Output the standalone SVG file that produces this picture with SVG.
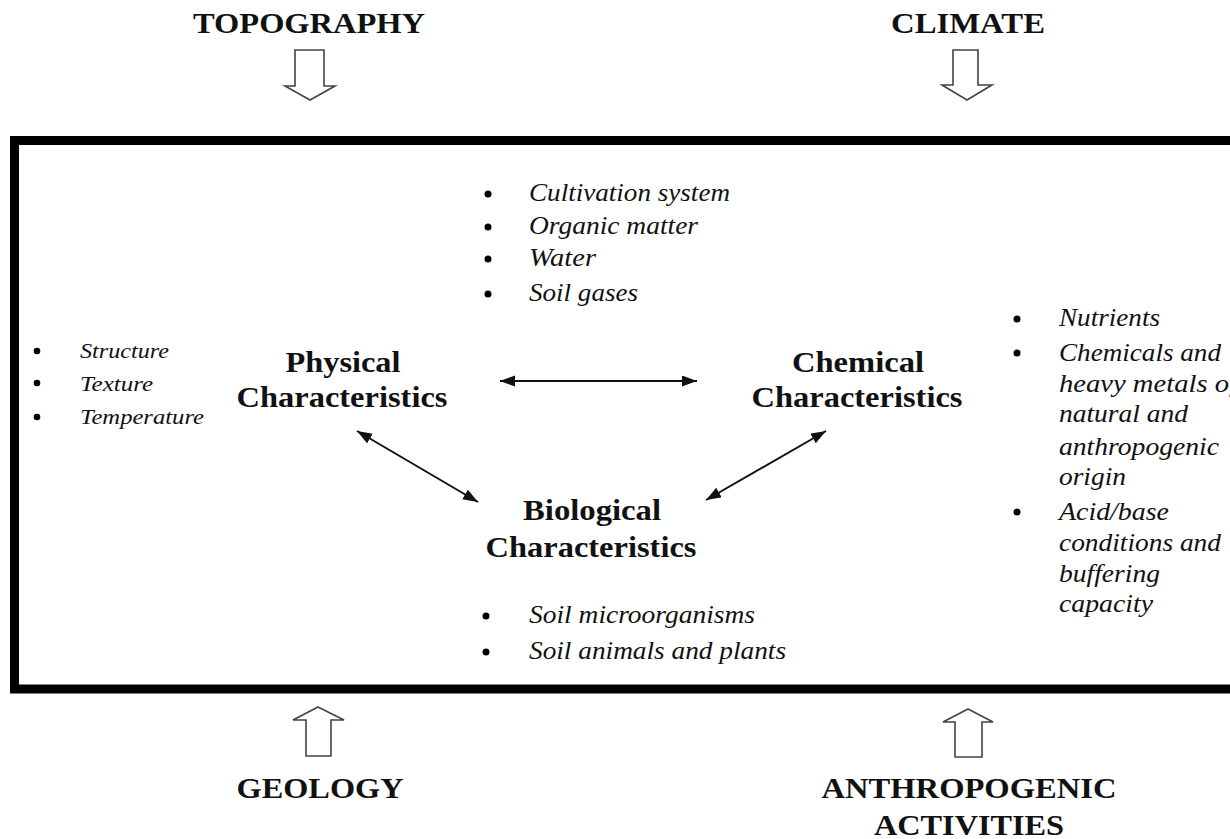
<svg xmlns="http://www.w3.org/2000/svg" width="1230" height="839" viewBox="0 0 1230 839">
<style>
.h{font-family:"Liberation Serif","Times New Roman",serif;font-weight:bold;font-size:30px;fill:#111;text-anchor:middle}
.it{font-family:"Liberation Serif","Times New Roman",serif;font-style:italic;font-size:25px;fill:#111}
.its{font-family:"Liberation Serif","Times New Roman",serif;font-style:italic;font-size:22px;fill:#111}
.hol{fill:#fff;stroke:#444;stroke-width:1.6;stroke-linejoin:miter}
.con{fill:none;stroke:#111;stroke-width:2}
.dot{fill:#000}
</style>
<defs>
<marker id="ah" markerUnits="userSpaceOnUse" markerWidth="16" markerHeight="12" refX="15" refY="5.5" orient="auto-start-reverse">
<path d="M0,0 L15,5.5 L0,11 z" fill="#111"/>
</marker>
</defs>
<rect x="0" y="0" width="1230" height="839" fill="#fff"/>

<g id="boundary">
<rect x="14.5" y="140.5" width="1240" height="548.5" fill="none" stroke="#000" stroke-width="9"/>
</g>

<g id="topography">
<text class="h" x="309" y="33" textLength="232" lengthAdjust="spacingAndGlyphs">TOPOGRAPHY</text>
<polygon class="hol" points="295,50 324,50 324,86 335,86 310,100 285,86 295,86"/>
</g>
<g id="climate">
<text class="h" x="968" y="33" textLength="154" lengthAdjust="spacingAndGlyphs">CLIMATE</text>
<polygon class="hol" points="953,50 978,50 978,85 992,85 967,100 942,85 953,85"/>
</g>
<g id="geology">
<polygon class="hol" points="318,707 344,720 331,720 331,756 306,756 306,720 293,720"/>
<text class="h" x="320" y="798" textLength="167" lengthAdjust="spacingAndGlyphs">GEOLOGY</text>
</g>
<g id="anthropogenic">
<polygon class="hol" points="968,709 993,722 982,722 982,757 955,757 955,722 943,722"/>
<text class="h" x="969" y="798" textLength="295" lengthAdjust="spacingAndGlyphs">ANTHROPOGENIC</text>
<text class="h" x="969" y="835" textLength="190" lengthAdjust="spacingAndGlyphs">ACTIVITIES</text>
</g>

<g id="physical">
<text class="h" x="343" y="372" textLength="115" lengthAdjust="spacingAndGlyphs">Physical</text>
<text class="h" x="342" y="407" textLength="211" lengthAdjust="spacingAndGlyphs">Characteristics</text>
</g>
<g id="chemical">
<text class="h" x="858" y="372" textLength="132" lengthAdjust="spacingAndGlyphs">Chemical</text>
<text class="h" x="857" y="407" textLength="211" lengthAdjust="spacingAndGlyphs">Characteristics</text>
</g>
<g id="biological">
<text class="h" x="592" y="520" textLength="138" lengthAdjust="spacingAndGlyphs">Biological</text>
<text class="h" x="591" y="557" textLength="211" lengthAdjust="spacingAndGlyphs">Characteristics</text>
</g>

<g id="physical-list">
<circle class="dot" cx="37" cy="351" r="3.3"/>
<circle class="dot" cx="37" cy="383" r="3.3"/>
<circle class="dot" cx="37" cy="417" r="3.3"/>
<text class="its" x="80" y="358" textLength="89" lengthAdjust="spacingAndGlyphs">Structure</text>
<text class="its" x="80" y="391" textLength="73" lengthAdjust="spacingAndGlyphs">Texture</text>
<text class="its" x="80" y="424" textLength="124" lengthAdjust="spacingAndGlyphs">Temperature</text>
</g>

<g id="top-list">
<circle class="dot" cx="488" cy="194" r="3.5"/>
<circle class="dot" cx="488" cy="227" r="3.5"/>
<circle class="dot" cx="488" cy="259" r="3.5"/>
<circle class="dot" cx="488" cy="294" r="3.5"/>
<text class="it" x="529" y="201" textLength="201" lengthAdjust="spacingAndGlyphs">Cultivation system</text>
<text class="it" x="529" y="234" textLength="169" lengthAdjust="spacingAndGlyphs">Organic matter</text>
<text class="it" x="529" y="266" textLength="67" lengthAdjust="spacingAndGlyphs">Water</text>
<text class="it" x="529" y="301" textLength="109" lengthAdjust="spacingAndGlyphs">Soil gases</text>
</g>

<g id="chemical-list">
<circle class="dot" cx="1017" cy="319" r="3.5"/>
<circle class="dot" cx="1017" cy="353" r="3.5"/>
<circle class="dot" cx="1017" cy="512" r="3.5"/>
<text class="it" x="1059" y="326" textLength="101" lengthAdjust="spacingAndGlyphs">Nutrients</text>
<text class="it" x="1059" y="361" textLength="162" lengthAdjust="spacingAndGlyphs">Chemicals and</text>
<text class="it" x="1059" y="392" textLength="178" lengthAdjust="spacingAndGlyphs">heavy metals of</text>
<text class="it" x="1059" y="422" textLength="129" lengthAdjust="spacingAndGlyphs">natural and</text>
<text class="it" x="1059" y="455" textLength="160" lengthAdjust="spacingAndGlyphs">anthropogenic</text>
<text class="it" x="1059" y="485" textLength="67" lengthAdjust="spacingAndGlyphs">origin</text>
<text class="it" x="1059" y="520" textLength="110" lengthAdjust="spacingAndGlyphs">Acid/base</text>
<text class="it" x="1059" y="551" textLength="162" lengthAdjust="spacingAndGlyphs">conditions and</text>
<text class="it" x="1059" y="582" textLength="101" lengthAdjust="spacingAndGlyphs">buffering</text>
<text class="it" x="1059" y="612" textLength="94" lengthAdjust="spacingAndGlyphs">capacity</text>
</g>

<g id="biological-list">
<circle class="dot" cx="486" cy="616" r="3.5"/>
<circle class="dot" cx="486" cy="652" r="3.5"/>
<text class="it" x="529" y="623" textLength="226" lengthAdjust="spacingAndGlyphs">Soil microorganisms</text>
<text class="it" x="529" y="659" textLength="257" lengthAdjust="spacingAndGlyphs">Soil animals and plants</text>
</g>

<g id="connectors">
<path class="con" d="M500,381 L697,381" marker-start="url(#ah)" marker-end="url(#ah)"/>
<path class="con" d="M357,431 L478,502" marker-start="url(#ah)" marker-end="url(#ah)"/>
<path class="con" d="M826,431 L706,500" marker-start="url(#ah)" marker-end="url(#ah)"/>
</g>
</svg>
